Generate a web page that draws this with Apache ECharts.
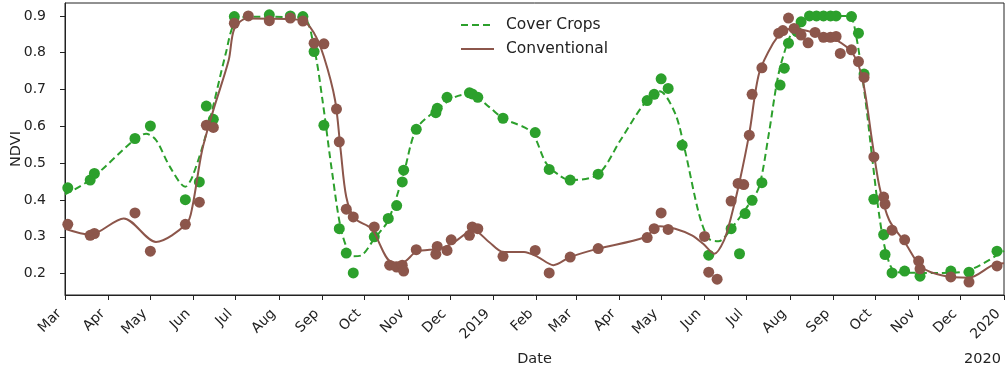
<!DOCTYPE html>
<html><head><meta charset="utf-8">
<script src="https://cdn.jsdelivr.net/npm/echarts@6/dist/echarts.min.js"></script>
<style>html,body{margin:0;padding:0;background:#fff}#c{width:1008px;height:367px}</style>
</head><body><div id="c"></div>
<script>
// ---- Axis ticks ----
const xTickDates = ['2018-03-01','2018-04-01','2018-05-01','2018-06-01','2018-07-01','2018-08-01','2018-09-01','2018-10-01','2018-11-01','2018-12-01','2019-01-01','2019-02-01','2019-03-01','2019-04-01','2019-05-01','2019-06-01','2019-07-01','2019-08-01','2019-09-01','2019-10-01','2019-11-01','2019-12-01','2020-01-01'];
const xTickLabels = ['Mar','Apr','May','Jun','Jul','Aug','Sep','Oct','Nov','Dec','2019','Feb','Mar','Apr','May','Jun','Jul','Aug','Sep','Oct','Nov','Dec','2020'];
const yTickValues = [0.2,0.3,0.4,0.5,0.6,0.7,0.8,0.9];
const yTickLabels = ['0.2','0.3','0.4','0.5','0.6','0.7','0.8','0.9'];

// ---- Cover crops observations ----
const coverDates = ['2018-03-03','2018-03-19','2018-03-22','2018-04-20','2018-05-01','2018-05-26','2018-06-05','2018-06-10','2018-06-15','2018-06-30','2018-07-25','2018-08-09','2018-08-18','2018-08-26','2018-09-02','2018-09-13','2018-09-18','2018-09-23','2018-10-08','2018-10-18','2018-10-24','2018-10-28','2018-10-29','2018-11-07','2018-11-21','2018-11-22','2018-11-29','2018-12-15','2018-12-17','2018-12-21','2019-01-08','2019-01-31','2019-02-10','2019-02-25','2019-03-17','2019-04-21','2019-04-26','2019-05-01','2019-05-06','2019-05-16','2019-06-04','2019-06-20','2019-06-26','2019-06-30','2019-07-05','2019-07-12','2019-07-25','2019-07-28','2019-07-31','2019-08-06','2019-08-09','2019-08-15','2019-08-20','2019-08-25','2019-08-30','2019-09-03','2019-09-14','2019-09-19','2019-09-23','2019-09-30','2019-10-07','2019-10-08','2019-10-13','2019-10-22','2019-11-02','2019-11-24','2019-12-07','2019-12-27'];
const coverValues = [0.433,0.454,0.472,0.567,0.601,0.401,0.449,0.655,0.619,0.898,0.903,0.900,0.898,0.803,0.603,0.322,0.256,0.202,0.300,0.350,0.385,0.449,0.481,0.592,0.637,0.649,0.679,0.691,0.688,0.679,0.622,0.583,0.483,0.454,0.470,0.670,0.687,0.729,0.703,0.549,0.250,0.322,0.254,0.363,0.399,0.447,0.712,0.758,0.826,0.857,0.884,0.900,0.900,0.900,0.900,0.900,0.898,0.853,0.742,0.402,0.306,0.252,0.202,0.207,0.193,0.207,0.204,0.261];

// ---- Conventional observations ----
const convDates = ['2018-03-03','2018-03-19','2018-03-22','2018-04-20','2018-05-01','2018-05-26','2018-06-05','2018-06-10','2018-06-15','2018-06-30','2018-07-10','2018-07-25','2018-08-09','2018-08-18','2018-08-26','2018-09-02','2018-09-11','2018-09-13','2018-09-18','2018-09-23','2018-10-08','2018-10-19','2018-10-24','2018-10-28','2018-10-29','2018-11-07','2018-11-21','2018-11-22','2018-11-29','2018-12-02','2018-12-15','2018-12-17','2018-12-21','2019-01-08','2019-01-31','2019-02-10','2019-02-25','2019-03-17','2019-04-21','2019-04-26','2019-05-01','2019-05-06','2019-06-01','2019-06-04','2019-06-10','2019-06-20','2019-06-25','2019-06-29','2019-07-03','2019-07-05','2019-07-12','2019-07-24','2019-07-27','2019-07-31','2019-08-04','2019-08-09','2019-08-14','2019-08-19','2019-08-25','2019-08-30','2019-09-03','2019-09-06','2019-09-14','2019-09-19','2019-09-23','2019-09-30','2019-10-07','2019-10-08','2019-10-13','2019-10-22','2019-11-01','2019-11-02','2019-11-24','2019-12-07','2019-12-27'];
const convValues = [0.334,0.304,0.309,0.365,0.261,0.334,0.394,0.603,0.597,0.880,0.900,0.887,0.894,0.886,0.826,0.824,0.647,0.558,0.375,0.354,0.327,0.223,0.218,0.223,0.207,0.265,0.253,0.274,0.263,0.292,0.304,0.327,0.322,0.247,0.263,0.202,0.245,0.268,0.298,0.322,0.365,0.320,0.301,0.204,0.185,0.397,0.445,0.442,0.576,0.687,0.759,0.853,0.860,0.894,0.866,0.848,0.827,0.855,0.842,0.842,0.844,0.798,0.808,0.776,0.733,0.517,0.408,0.389,0.318,0.292,0.234,0.213,0.191,0.177,0.221];

// ---- Smoothed fit curves ----
const coverFitDates = ['2018-03-01','2018-03-19','2018-04-20','2018-04-28','2018-05-05','2018-05-15','2018-05-26','2018-05-31','2018-06-10','2018-06-24','2018-06-30','2018-07-09','2018-08-18','2018-08-26','2018-09-01','2018-09-08','2018-09-15','2018-09-23','2018-09-29','2018-10-08','2018-10-18','2018-10-29','2018-11-07','2018-11-21','2018-12-05','2018-12-16','2018-12-29','2019-01-08','2019-01-28','2019-02-08','2019-02-18','2019-02-25','2019-03-17','2019-04-02','2019-04-19','2019-04-30','2019-05-11','2019-05-18','2019-05-28','2019-06-04','2019-06-11','2019-06-21','2019-07-03','2019-07-10','2019-07-17','2019-07-24','2019-08-01','2019-08-08','2019-08-15','2019-09-12','2019-09-17','2019-09-24','2019-09-29','2019-10-04','2019-10-09','2019-10-16','2019-11-18','2019-12-07','2020-01-01'];
const coverFitValues = [0.415,0.455,0.565,0.580,0.563,0.490,0.436,0.463,0.581,0.800,0.880,0.898,0.894,0.812,0.671,0.472,0.309,0.247,0.250,0.295,0.345,0.472,0.592,0.643,0.680,0.688,0.653,0.622,0.585,0.499,0.465,0.454,0.470,0.563,0.662,0.695,0.635,0.535,0.363,0.295,0.288,0.327,0.390,0.436,0.581,0.744,0.844,0.889,0.900,0.900,0.853,0.671,0.508,0.354,0.254,0.204,0.202,0.209,0.262];
const convFitDates = ['2018-03-01','2018-03-19','2018-04-12','2018-05-05','2018-05-27','2018-05-31','2018-06-07','2018-06-15','2018-06-26','2018-06-30','2018-07-09','2018-08-17','2018-08-26','2018-09-02','2018-09-10','2018-09-14','2018-09-18','2018-09-24','2018-10-06','2018-10-20','2018-10-28','2018-11-07','2018-11-24','2018-12-03','2018-12-18','2018-12-29','2019-01-08','2019-01-23','2019-02-02','2019-02-13','2019-02-25','2019-03-17','2019-04-19','2019-04-30','2019-05-11','2019-05-23','2019-05-31','2019-06-08','2019-06-15','2019-06-20','2019-06-26','2019-07-03','2019-07-10','2019-07-20','2019-07-27','2019-08-03','2019-08-20','2019-09-03','2019-09-15','2019-09-22','2019-09-29','2019-10-04','2019-10-11','2019-10-22','2019-11-03','2019-11-18','2019-12-07','2019-12-24','2020-01-01'];
const convFitValues = [0.322,0.306,0.350,0.286,0.336,0.381,0.535,0.644,0.780,0.865,0.893,0.889,0.853,0.789,0.671,0.535,0.408,0.350,0.322,0.232,0.230,0.259,0.268,0.283,0.318,0.286,0.259,0.259,0.245,0.223,0.245,0.268,0.298,0.329,0.322,0.304,0.281,0.254,0.291,0.354,0.449,0.581,0.744,0.826,0.857,0.866,0.853,0.835,0.798,0.726,0.554,0.436,0.345,0.286,0.218,0.195,0.189,0.223,0.228];

function toTime(s){const p=s.split('-').map(Number);return Date.UTC(p[0],p[1]-1,p[2]);}
function pairs(ds,vs){return ds.map((d,i)=>[toTime(d),vs[i]]);}
const xTickTimes = xTickDates.map(toTime);

const GREEN='#2ca02c', BROWN='#8c564b', INK='#222';
const FONT='DejaVu Sans';
const chart = echarts.init(document.getElementById('c'), null, {renderer:'canvas'});
chart.setOption({
  animation:false,
  backgroundColor:'#fff',
  textStyle:{fontFamily:FONT},
  grid:{left:65,right:4,top:3,bottom:72,outerBoundsMode:'none',containLabel:false,
    show:true,borderColor:INK,borderWidth:1,backgroundColor:'transparent'},
  legend:{
    data:['Cover Crops','Conventional'],
    orient:'vertical', left:455, top:12, itemWidth:33, itemHeight:14, itemGap:8,
    itemStyle:{opacity:0},
    textStyle:{fontFamily:FONT,fontSize:15.5,color:INK,padding:[0,0,0,7]},
    selectedMode:false
  },
  xAxis:{
    type:'value', min:xTickTimes[0], max:xTickTimes[xTickTimes.length-1],
    name:'Date', nameLocation:'middle', nameGap:57, nameMoveOverlap:false,
    nameTextStyle:{fontFamily:FONT,fontSize:14.5,color:INK,verticalAlign:'top'},
    axisLine:{show:true,onZero:false,lineStyle:{color:INK,width:1}},
    axisTick:{show:true,length:5,lineStyle:{color:INK},customValues:xTickTimes},
    axisLabel:{
      customValues:xTickTimes, rotate:45, margin:11, padding:[0,8,0,0],
      fontFamily:FONT, fontSize:14, color:INK,
      formatter:function(v){const i=xTickTimes.findIndex(t=>Math.abs(t-v)<1000);return i>=0?xTickLabels[i]:'';}
    },
    splitLine:{show:false}
  },
  yAxis:{
    type:'value', min:0.142, max:0.935,
    name:'NDVI', nameLocation:'middle', nameGap:41, nameMoveOverlap:false,
    nameTextStyle:{fontFamily:FONT,fontSize:14.5,color:INK},
    axisLine:{show:true,onZero:false,lineStyle:{color:INK,width:1}},
    axisTick:{show:true,length:5,lineStyle:{color:INK},customValues:yTickValues},
    axisLabel:{
      customValues:yTickValues, margin:19, fontFamily:FONT, fontSize:14, color:INK,
      formatter:function(v){const i=yTickValues.findIndex(t=>Math.abs(t-v)<1e-6);return i>=0?yTickLabels[i]:'';}
    },
    splitLine:{show:false}
  },
  graphic:[{type:'text',right:7,top:352,style:{text:'2020',fontFamily:FONT,fontSize:14.5,fill:INK}}],
  series:[
    {name:'Cover Crops obs',type:'scatter',data:pairs(coverDates,coverValues),symbolSize:11,itemStyle:{color:GREEN,opacity:1},z:2,silent:true},
    {name:'Cover Crops',type:'line',data:pairs(coverFitDates,coverFitValues),symbol:'none',smooth:0.3,
      lineStyle:{color:GREEN,width:2,type:[7,4]},itemStyle:{color:GREEN},z:3,silent:true},
    {name:'Conventional obs',type:'scatter',data:pairs(convDates,convValues),symbolSize:11,itemStyle:{color:BROWN,opacity:1},z:4,silent:true},
    {name:'Conventional',type:'line',data:pairs(convFitDates,convFitValues),symbol:'none',smooth:0.3,
      lineStyle:{color:BROWN,width:2},itemStyle:{color:BROWN},z:5,silent:true}
  ]
});
</script></body></html>
